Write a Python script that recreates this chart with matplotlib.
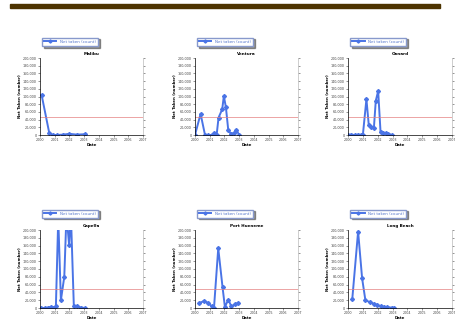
import matplotlib

matplotlib.use("Agg")
import matplotlib.pyplot as plt  # noqa: E402
from matplotlib.patches import Rectangle  # noqa: E402

# panel titles and series (x in tick units, y in counts)
titles = ["Malibu", "Ventura", "Oxnard", "Capella", "Port Hueneme", "Long Beach"]
legend_label = "Net taken (count)"
y_label = "Net Taken (number)"
x_ticklabels = ["2000", "2001", "2002", "2003", "2004", "2005", "2006", "2007"]
threshold = 48000

x1 = [0.11, 0.63, 0.9, 1.13, 1.58, 2.0, 2.5, 3.05]
y1 = [104000, 5000, 0, 0, 1000, 3000, 1000, 2000]

x2 = [0.0, 0.38, 0.68, 0.9, 1.13, 1.3, 1.47, 1.6, 1.85, 1.96, 2.1, 2.26, 2.44, 2.64, 2.82, 3.0]
y2 = [0, 55000, 0, 0, 0, 4000, 0, 45000, 67000, 101000, 72000, 13000, 3000, 4000, 13000, 0]

x3 = [0.0, 0.23, 0.45, 0.68, 0.9, 1.0, 1.24, 1.4, 1.58, 1.74, 1.87, 2.03, 2.19, 2.37, 2.55, 2.7, 2.93]
y3 = [0, 1000, 0, 1000, 0, 0, 93000, 25000, 21000, 17000, 89000, 114000, 8000, 6000, 4000, 3000, 0]

x4 = [0.05, 0.34, 0.56, 0.72, 0.9, 1.08, 1.24, 1.42, 1.65, 1.8, 1.98, 2.1, 2.3, 2.53, 2.82, 3.05]
y4 = [0, 0, 1000, 3000, 0, 4000, 230000, 20000, 80000, 240000, 161000, 240000, 4000, 4000, 1000, 0]

x5 = [0.3, 0.63, 0.9, 1.13, 1.29, 1.58, 1.87, 2.03, 2.26, 2.48, 2.7, 2.93]
y5 = [13000, 18000, 13000, 4000, 0, 153000, 54000, 3000, 21000, 4000, 9000, 13000]

x6 = [0.29, 0.68, 0.95, 1.17, 1.47, 1.74, 1.96, 2.19, 2.41, 2.64, 2.93, 3.09]
y6 = [24000, 196000, 76000, 20000, 15000, 11000, 8000, 4000, 3000, 2000, 1000, 0]

series = [(x1, y1), (x2, y2), (x3, y3), (x4, y4), (x5, y5), (x6, y6)]

W, H = 456, 326
fig = plt.figure(figsize=(W / 100, H / 100), dpi=100)
fig.patches.append(Rectangle((10 / W, 1 - 8 / H), 430 / W, 4 / H,
                             transform=fig.transFigure, color="#4d3300"))

# axes boxes in pixels: left, top, right, bottom
boxes = [(40, 58, 143, 135), (195, 58, 298, 135), (348, 58, 452, 135),
         (40, 230, 143, 308), (195, 230, 298, 308), (348, 230, 452, 308)]

blue = "#4a74e6"
for (l, t, r, b), title, (xs, ys) in zip(boxes, titles, series):
    ax = fig.add_axes([l / W, 1 - b / H, (r - l) / W, (b - t) / H])
    ax.plot(xs, ys, color=blue, lw=1.4, marker="D", ms=2, label=legend_label)
    ax.axhline(threshold, color="#e58080", lw=0.5)
    ax.set_xlim(0, 7)
    ax.set_ylim(0, 200000)
    ax.set_xticks(range(8))
    ax.set_xticklabels(x_ticklabels)
    ax.set_yticks(range(0, 200001, 20000))
    ax.set_yticklabels([f"{v:,}" for v in range(0, 200001, 20000)])
    ax.yaxis.set_ticks_position("both")
    ax.tick_params(labelsize=2.4, length=1.2, width=0.4, pad=1, colors="#444444")
    ax.spines["top"].set_visible(False)
    ax.spines["right"].set_color("#bbbbbb")
    ax.spines["right"].set_linewidth(0.5)
    ax.spines["left"].set_linewidth(0.5)
    ax.spines["bottom"].set_linewidth(0.5)
    ax.set_title(title, fontsize=3, fontweight="bold", pad=2)
    ax.set_xlabel("Date", fontsize=2.8, fontweight="bold", labelpad=1)
    ax.set_ylabel(y_label, fontsize=2.8, fontweight="bold", labelpad=1)
    leg = ax.legend(loc="center", bbox_to_anchor=(0.29, 1.21), fontsize=3, frameon=True,
                    fancybox=False, shadow={"ox": 1.2, "oy": -1.2, "color": "#333333"},
                    edgecolor="#8899cc", handlelength=3, borderpad=0.5, markerscale=0.8)
    for txt in leg.get_texts():
        txt.set_color("#5577cc")

fig.savefig("out.png", dpi=100)
